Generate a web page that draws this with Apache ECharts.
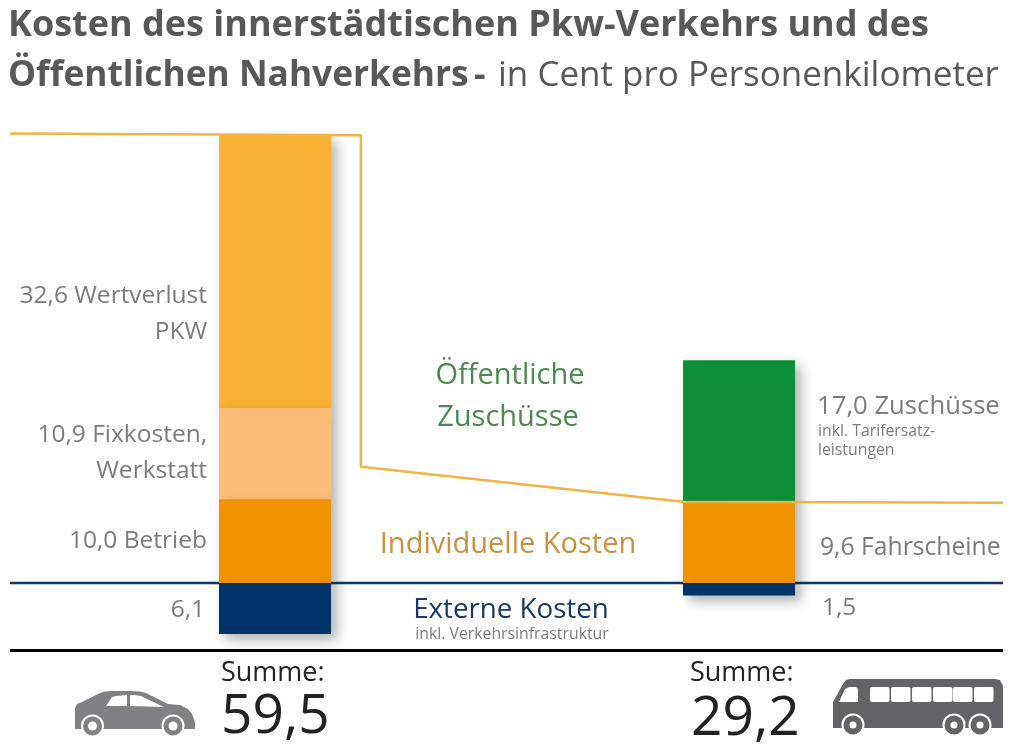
<!DOCTYPE html>
<html>
<head>
<meta charset="utf-8">
<style>
  html, body { margin: 0; padding: 0; background: #fff; }
  #main { width: 1019px; height: 751px; }
</style>
<script src="https://cdn.jsdelivr.net/npm/echarts@6/dist/echarts.min.js"></script>
</head>
<body>
<div id="main"></div>
<script>
// data
var categories = ['Pkw', 'Öffentlicher Nahverkehr'];
var betrieb = [10.0, 9.6];
var fixkosten = [10.9, null];
var wertverlust = [32.6, null];
var zuschuesse = [null, 17.0];
var extern = [-6.1, -1.5];

// trennlinie individuelle kosten / zuschuesse
var splitX = [-0.571, 0.185, 0.185, 0.879, 1.569];
var splitY = [53.7, 53.5, 13.9, 9.7, 9.6];
var lineEndsX = [-0.571, 1.569];
var zeroY = [0, 0];
var rulerY = [-8.07, -8.07];

var FONT = 'Open Sans';
var GREY = '#7b7b7b';
var TITLE = '#58585a';

function pairs(xs, ys) {
    return xs.map(function (x, i) {
        return [x, ys[i]];
    });
}

function barSeries(name, values, color, z) {
    return {
        name: name,
        type: 'bar',
        stack: 'kosten',
        barWidth: 112,
        z: z,
        data: values,
        itemStyle: {
            color: color,
            shadowColor: 'rgba(0,0,0,0.3)',
            shadowBlur: 12,
            shadowOffsetX: 6,
            shadowOffsetY: 6
        }
    };
}

// linien laufen ueber die balken-achse hinaus, darum eigenes grid ueber die volle breite
function lineSeries(name, data, color, width, z) {
    return {
        name: name,
        type: 'line',
        xAxisIndex: 1,
        yAxisIndex: 1,
        data: data,
        z: z,
        symbol: 'none',
        silent: true,
        lineStyle: { color: color, width: width }
    };
}

function label(text, x, y, size, color, align, weight) {
    return {
        type: 'text',
        x: x,
        y: y,
        z: 20,
        style: {
            text: text,
            fontFamily: FONT,
            fontSize: size,
            fontWeight: weight || 'normal',
            fill: color,
            align: align || 'left',
            verticalAlign: 'middle'
        }
    };
}

function wheel(cx, cy, color, hub) {
    return [
        { type: 'circle', z: 21, shape: { cx: cx, cy: cy, r: 11.5 }, style: { fill: '#fff' } },
        { type: 'circle', z: 22, shape: { cx: cx, cy: cy, r: 9.5 }, style: { fill: color } },
        { type: 'circle', z: 23, shape: { cx: cx, cy: cy, r: hub }, style: { fill: '#fff' } }
    ];
}

function poly(pts, color, z) {
    return { type: 'polygon', z: z, shape: { points: pts }, style: { fill: color } };
}

var CAR = '#808085';
var BUS = '#646367';

var carIcon = [
    poly([[75, 729], [75, 708], [77, 704], [82, 702], [100, 693], [105, 691.5], [112, 691], [130, 691], [140, 691.5], [146, 693], [168, 704], [180, 705], [188, 709], [192, 714], [195, 722], [195, 729]], CAR, 20),
    poly([[106, 706], [112, 697], [116, 696], [127, 695], [127, 706]], '#fff', 21),
    poly([[130, 695], [134, 695], [141, 696], [147, 699], [164, 707], [130, 706]], '#fff', 21)
].concat(wheel(92.5, 726, CAR, 4.5), wheel(173, 726, CAR, 4.5));

var busIcon = [
    poly([[833, 728], [833, 702], [843, 684], [846, 680], [850, 679], [995, 679], [1000, 680], [1003, 686], [1003, 728]], BUS, 20),
    poly([[839, 702], [845, 689], [849, 687], [856, 687], [858, 689], [858, 702]], '#fff', 21)
].concat(
    [870, 891, 912, 933, 953, 974].map(function (x) {
        return { type: 'rect', z: 21, shape: { x: x, y: 687, width: 19.5, height: 15, r: 2 }, style: { fill: '#fff' } };
    }),
    wheel(853, 725, BUS, 3.5), wheel(954, 725, BUS, 3.5), wheel(980, 725, BUS, 3.5)
);

var texts = [
    label('Kosten des innerstädtischen Pkw-Verkehrs und des', 8, 26, 36, TITLE, 'left', 'bold'),
    label('Öffentlichen Nahverkehrs', 8, 76, 35.3, TITLE, 'left', 'bold'),
    label('-', 474, 76, 36, TITLE, 'left', 'bold'),
    label('in Cent pro Personenkilometer', 498, 76, 35, TITLE),
    label('32,6 Wertverlust', 207, 296, 24.5, GREY, 'right'),
    label('PKW', 207, 332, 24.5, GREY, 'right'),
    label('10,9 Fixkosten,', 207, 435, 24.5, GREY, 'right'),
    label('Werkstatt', 207, 471, 24.5, GREY, 'right'),
    label('10,0 Betrieb', 207, 541, 24.5, GREY, 'right'),
    label('6,1', 205, 610, 24.5, GREY, 'right'),
    label('Öffentliche', 510, 376, 29, '#4b8a4f', 'center'),
    label('Zuschüsse', 508, 418, 29, '#4b8a4f', 'center'),
    label('Individuelle Kosten', 508, 545, 29, '#c8913f', 'center'),
    label('Externe Kosten', 511, 610, 27.7, '#16386b', 'center'),
    label('inkl. Verkehrsinfrastruktur', 512, 634, 15.8, GREY, 'center'),
    label('17,0 Zuschüsse', 817, 407, 25.7, GREY),
    label('inkl. Tarifersatz-', 818, 431, 15.8, GREY),
    label('leistungen', 818, 450, 15.8, GREY),
    label('9,6 Fahrscheine', 820, 548, 24.7, GREY),
    label('1,5', 822, 608, 24.5, GREY),
    label('Summe:', 221, 673, 27, '#222'),
    label('59,5', 221, 717, 55, '#222'),
    label('Summe:', 690, 673, 27, '#222'),
    label('29,2', 691, 719, 55, '#222')
];

var myChart = echarts.init(document.getElementById('main'));
myChart.setOption({
    animation: false,
    backgroundColor: '#fff',
    grid: [
        { left: 43, right: 48, top: 0, bottom: 0 },
        { left: 0, right: 0, top: 0, bottom: 0 }
    ],
    xAxis: [
        { type: 'category', gridIndex: 0, data: categories, show: false },
        { type: 'value', gridIndex: 1, min: -0.5927, max: 1.6034, show: false }
    ],
    yAxis: [
        { type: 'value', gridIndex: 0, min: -20.07, max: 69.65, show: false },
        { type: 'value', gridIndex: 1, min: -20.07, max: 69.65, show: false }
    ],
    series: [
        lineSeries('Null', pairs(lineEndsX, zeroY), '#123a68', 2.5, 1),
        lineSeries('Linie unten', pairs(lineEndsX, rulerY), '#000', 3, 1),
        barSeries('Betrieb / Fahrscheine', betrieb, '#f39200', 5),
        barSeries('Fixkosten', fixkosten, '#fbbd78', 4),
        barSeries('Wertverlust', wertverlust, '#f9b233', 3),
        barSeries('Zuschüsse', zuschuesse, '#0d9038', 3),
        barSeries('Externe Kosten', extern, '#003469', 6),
        lineSeries('Trennlinie', pairs(splitX, splitY), '#f0b444', 2.5, 8)
    ],
    graphic: texts.concat(carIcon, busIcon)
});
</script>
</body>
</html>
